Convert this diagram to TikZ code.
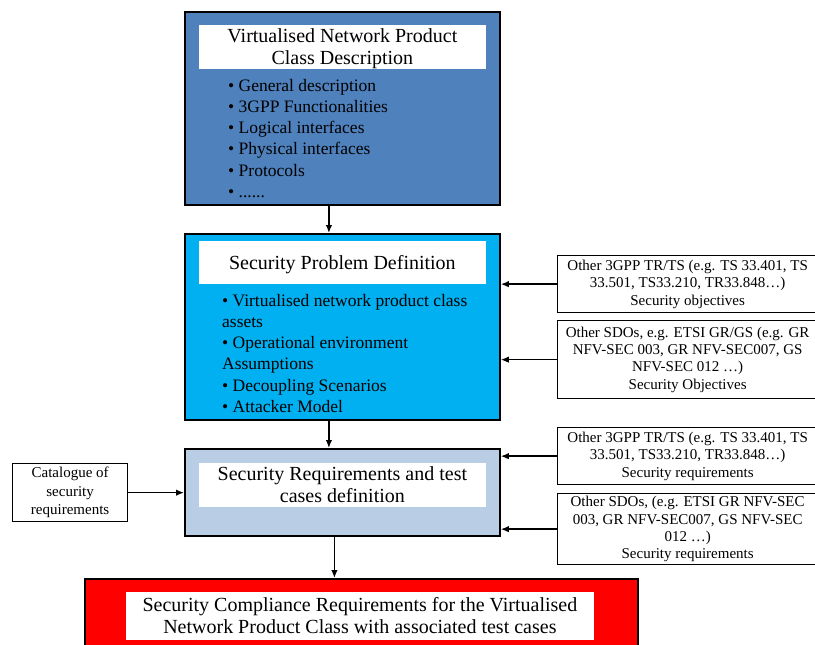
\documentclass[tikz,border=0pt]{standalone}
\usepackage{fontspec}
\setmainfont{Liberation Serif}
\usetikzlibrary{calc,arrows.meta}
\definecolor{beschrijfblauw}{RGB}{79,129,189}
\definecolor{probleemblauw}{RGB}{0,176,240}
\definecolor{eisblauw}{RGB}{185,205,229}
\definecolor{eindrood}{RGB}{255,0,0}
\tikzset{
    hoofdvak/.style={draw, line width=1.8pt, anchor=north west, inner sep=0pt, minimum width=315pt},
    titelvak/.style={fill=white, align=center, inner sep=0pt, font=\fontsize{20}{22}\selectfont},
    puntjes/.style={align=left, anchor=north west, inner sep=0pt, font=\fontsize{17.5}{21.2}\selectfont},
    bronvak/.style={draw, line width=1.3pt, align=center, anchor=north west, inner sep=0pt, font=\fontsize{15}{17.3}\selectfont},
    pijl/.style={-{Latex[length=8pt,width=6.5pt]}, line width=1.4pt}
}
\begin{document}
\begin{tikzpicture}[x=1pt,y=-1pt]
    \useasboundingbox[fill=white] (0,0) rectangle (815,645);
    \clip (0,0) rectangle (815,645);
    % de vier hoofdvakken
    \node[hoofdvak, fill=beschrijfblauw, minimum height=193pt] (vnp) at (184,11) {};
    \node[hoofdvak, fill=probleemblauw, minimum height=186pt] (spd) at (184,233) {};
    \node[hoofdvak, fill=eisblauw, minimum height=87pt] (srt) at (184,448) {};
    \node[hoofdvak, fill=eindrood, minimum width=553pt, minimum height=75pt] (scr) at (84,578) {};
    % titels
    \node[titelvak, minimum width=287pt, minimum height=43pt] (vnptitel) at ([yshift=-35.5pt]vnp.north)
        {\raisebox{-2.5pt}[\height][\depth]{\begin{tabular}{@{}c@{}}Virtualised Network Product\\Class Description\end{tabular}}};
    \node[titelvak, minimum width=287pt, minimum height=43pt] (spdtitel) at ([yshift=-29.5pt]spd.north)
        {\raisebox{-2pt}[\height][\depth]{Security Problem Definition}};
    \node[titelvak, minimum width=287pt, minimum height=44pt] (srttitel) at ([yshift=-37pt]srt.north)
        {Security Requirements and test\\cases definition};
    \node[titelvak, minimum width=468pt, minimum height=48pt] (scrtitel) at ([xshift=-1.5pt,yshift=-38pt]scr.north)
        {Security Compliance Requirements for the Virtualised\\Network Product Class with associated test cases};
    % opsommingen
    \node[puntjes] (vnplijst) at (228,79) {• General description\\• 3GPP Functionalities\\• Logical interfaces\\• Physical interfaces\\• Protocols\\• ......};
    \node[puntjes] (spdlijst) at (222,294) {• Virtualised network product class\\assets\\• Operational environment\\Assumptions\\• Decoupling Scenarios\\• Attacker Model};
    % bronnen
    \node[bronvak, font=\fontsize{15}{18.5}\selectfont, minimum width=115pt, minimum height=58pt] (cat) at (12,463)
        {Catalogue of\\security\\requirements};
    \node[bronvak, minimum width=260pt, minimum height=57pt] (bronA) at (557,255)
        {Other 3GPP TR/TS (e.g. TS 33.401, TS\\33.501, TS33.210, TR33.848…)\\Security objectives};
    \node[bronvak, minimum width=260pt, minimum height=78pt] (bronB) at (557,320)
        {Other SDOs, e.g. ETSI GR/GS (e.g. GR\\NFV-SEC 003, GR NFV-SEC007, GS\\NFV-SEC 012 …)\\Security Objectives};
    \node[bronvak, minimum width=260pt, minimum height=57pt] (bronC) at (557,427)
        {Other 3GPP TR/TS (e.g. TS 33.401, TS\\33.501, TS33.210, TR33.848…)\\Security requirements};
    \node[bronvak, minimum width=260pt, minimum height=71pt] (bronD) at (557,493)
        {Other SDOs, (e.g. ETSI GR NFV-SEC\\003, GR NFV-SEC007, GS NFV-SEC\\012 …)\\Security requirements};
    % pijlen
    \draw[pijl] ([xshift=-13.5pt]vnp.south) -- ([xshift=-13.5pt]spd.north);
    \draw[pijl] ([xshift=-13.5pt]spd.south) -- ([xshift=-13.5pt]srt.north);
    \draw[pijl] ([xshift=-8pt]srt.south) -- ([xshift=-8pt]srt.south |- scr.north);
    \draw[pijl] (cat.east) -- (cat.east -| srt.west);
    \draw[pijl] (bronA.west) -- (bronA.west -| spd.east);
    \draw[pijl] (bronB.west) -- (bronB.west -| spd.east);
    \draw[pijl] (bronC.west) -- (bronC.west -| srt.east);
    \draw[pijl] (bronD.west) -- (bronD.west -| srt.east);
\end{tikzpicture}
\end{document}
